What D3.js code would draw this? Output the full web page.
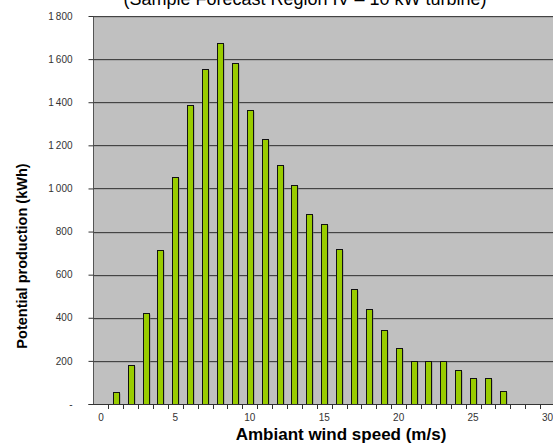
<!DOCTYPE html>
<html>
<head>
<meta charset="utf-8">
<script src="https://cdn.jsdelivr.net/npm/d3@7"></script>
<style>
  body { margin: 0; background: #fff; }
  svg { display: block; font-family: "Liberation Sans", Arial, sans-serif; }
</style>
</head>
<body>
<svg id="chart"></svg>
<script>
// Wind speed categories (m/s) and potential production (kWh)
const speeds = d3.range(0, 31);
const production = [0, 55, 180, 420, 715, 1055, 1385, 1555, 1675, 1580, 1365,
  1230, 1110, 1015, 880, 835, 720, 535, 440, 345, 260,
  200, 200, 200, 160, 120, 120, 60, 0, 0, 0];
const yTicks = [0, 200, 400, 600, 800, 1000, 1200, 1400, 1600, 1800];
const xLabels = [0, 5, 10, 15, 20, 25, 30];

const width = 553, height = 444;
const margin = {top: 16, right: -2, bottom: 40, left: 93.5};

const svg = d3.select("#chart")
  .attr("width", width)
  .attr("height", height);

const x = d3.scaleBand()
  .domain(speeds)
  .range([margin.left, width - margin.right])
  .paddingInner(0).paddingOuter(0);

const y = d3.scaleLinear()
  .domain([0, 1800])
  .range([height - margin.bottom, margin.top]);

// plot background
svg.append("rect")
  .attr("x", margin.left)
  .attr("y", margin.top)
  .attr("width", width - margin.left)
  .attr("height", y(0) - margin.top)
  .attr("fill", "#c0c0c0");

// gridlines with a light shadow
svg.append("g").selectAll("line")
  .data(yTicks.filter(d => d > 0))
  .join("line")
  .attr("x1", margin.left).attr("x2", width)
  .attr("y1", d => Math.round(y(d)) + 1.5).attr("y2", d => Math.round(y(d)) + 1.5)
  .attr("stroke", "#a8a8a8");
svg.append("g").selectAll("line")
  .data(yTicks.filter(d => d > 0))
  .join("line")
  .attr("x1", margin.left).attr("x2", width)
  .attr("y1", d => Math.round(y(d)) + 0.5).attr("y2", d => Math.round(y(d)) + 0.5)
  .attr("stroke", "#444");

// bars
const barW = 6;
const bars = speeds.map((s, i) => ({s, v: production[i]})).filter(d => d.v > 0);

svg.append("g").selectAll("rect")
  .data(bars)
  .join("rect")
  .attr("x", d => Math.round(x(d.s) + x.bandwidth() / 2 - barW / 2) + 1.5)
  .attr("y", d => Math.round(y(d.v)) + 1.5)
  .attr("width", barW)
  .attr("height", d => y(0) - Math.round(y(d.v)) - 1)
  .attr("fill", "#7a7a7a")
  .attr("opacity", 0.7);

svg.append("g").selectAll("rect")
  .data(bars)
  .join("rect")
  .attr("x", d => Math.round(x(d.s) + x.bandwidth() / 2 - barW / 2) + 0.5)
  .attr("y", d => Math.round(y(d.v)) + 0.5)
  .attr("width", barW)
  .attr("height", d => y(0) - Math.round(y(d.v)))
  .attr("fill", "#99cc00")
  .attr("stroke", "#111")
  .attr("stroke-width", 1);

// y axis
const yAxis = d3.axisLeft(y)
  .tickValues(yTicks)
  .tickSize(5)
  .tickPadding(16)
  .tickFormat(d => d === 0 ? "-" : d3.format(",")(d).replace(",", "\u2009"));

const gy = svg.append("g")
  .attr("transform", `translate(${margin.left},0)`)
  .call(yAxis);
gy.select(".domain").attr("stroke", "#555").attr("d", `M0,${margin.top}V${y(0)}`);
gy.selectAll(".tick line").attr("stroke", "#333");
gy.selectAll(".tick text")
  .attr("fill", "#333")
  .attr("font-size", 10)
  .style("font-family", "'Liberation Sans', Arial, sans-serif");

// x axis: ticks at category boundaries, labels every 5
const gx = svg.append("g")
  .attr("transform", `translate(0,${y(0)})`);
gx.append("line")
  .attr("x1", margin.left - 5).attr("x2", width)
  .attr("y1", 0.5).attr("y2", 0.5)
  .attr("stroke", "#333");
gx.selectAll("line.tk")
  .data(speeds.slice(1))
  .join("line")
  .attr("class", "tk")
  .attr("x1", d => Math.round(x(d)) + 0.5).attr("x2", d => Math.round(x(d)) + 0.5)
  .attr("y1", 0).attr("y2", 5)
  .attr("stroke", "#333");
gx.selectAll("text")
  .data(xLabels)
  .join("text")
  .attr("x", d => x(d) + x.bandwidth() / 2)
  .attr("y", 17)
  .attr("text-anchor", "middle")
  .attr("fill", "#333")
  .attr("font-size", 10)
  .text(d => d);

// titles
svg.append("text")
  .attr("x", 305)
  .attr("y", 5)
  .attr("text-anchor", "middle")
  .attr("font-size", 18)
  .attr("fill", "#000")
  .text("(Sample Forecast Region IV \u2013 10 kW turbine)");

svg.append("text")
  .attr("x", 341)
  .attr("y", 440)
  .attr("text-anchor", "middle")
  .attr("font-size", 17)
  .attr("font-weight", "bold")
  .text("Ambiant wind speed (m/s)");

svg.append("text")
  .attr("transform", "translate(27,256) rotate(-90)")
  .attr("text-anchor", "middle")
  .attr("font-size", 14.5)
  .attr("font-weight", "bold")
  .text("Potential production (kWh)");
</script>
</body>
</html>
